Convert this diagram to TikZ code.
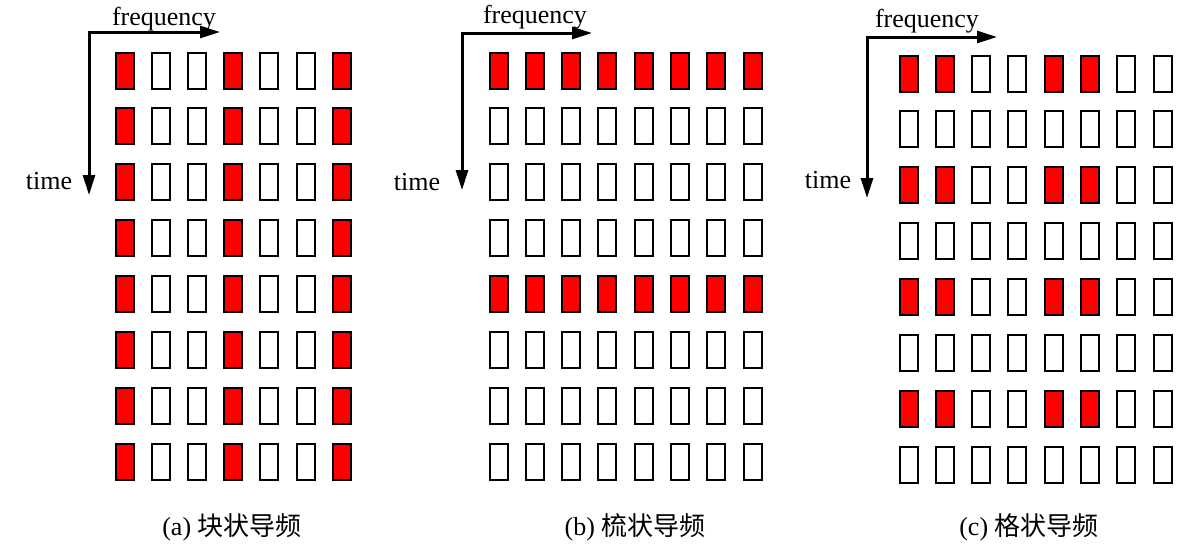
\documentclass[tikz,border=0pt]{standalone}
\usepackage{fontspec}
\setmainfont{Liberation Serif}
\newfontfamily\cjk{Noto Sans CJK SC}
\usetikzlibrary{arrows.meta}
\tikzset{
    cell/.style = {rectangle, line width=1pt, draw=black, minimum width=9pt, minimum height=18pt, inner sep=0pt, fill=#1},
    axisarrow/.style = {line width=1.5pt, line join=miter, {Triangle[length=10pt,width=6pt]}-{Triangle[length=10pt,width=6pt]}},
    lbl/.style = {font=\fontsize{13}{15}\selectfont, anchor=base, inner sep=0pt},
}

\begin{document}
\begin{tikzpicture}[x=0.5pt,y=-0.5pt]
\useasboundingbox (0,0) rectangle (1195,548);
% axes
\coordinate (oa) at (89,32);  \coordinate (fa) at (220,32); \coordinate (ta) at (89,195);
\coordinate (ob) at (462,33); \coordinate (fb) at (592,33); \coordinate (tb) at (462,190);
\coordinate (oc) at (867,37); \coordinate (fc) at (997,37); \coordinate (tc) at (867,198);
\draw[axisarrow] (fa) -- (oa) -- (ta);
\draw[axisarrow] (fb) -- (ob) -- (tb);
\draw[axisarrow] (fc) -- (oc) -- (tc);
\node[lbl] (freqa) at (164,25) {frequency};
\node[lbl] (freqb) at (535,23) {frequency};
\node[lbl] (freqc) at (927,27) {frequency};
\node[lbl] (timea) at (49,189) {time};
\node[lbl] (timeb) at (417,190) {time};
\node[lbl] (timec) at (828,188) {time};
%
% (a) block
\foreach \r in {0,...,7}{
  \foreach \c in {0,...,6}{
    \pgfmathtruncatemacro{\isred}{mod(\c,3)==0}
    \ifnum\isred=1 \def\clr{red}\else\def\clr{white}\fi
    \node[cell=\clr] (a-\r-\c) at ({124.5+36.2*\c},{70.5+55.9*\r}) {};
  }
}
% (b) comb
\foreach \r in {0,...,7}{
  \foreach \c in {0,...,7}{
    \pgfmathtruncatemacro{\isred}{mod(\r,4)==0}
    \ifnum\isred=1 \def\clr{red}\else\def\clr{white}\fi
    \node[cell=\clr] (b-\r-\c) at ({498.5+36.3*\c},{70.5+55.9*\r}) {};
  }
}
% (c) lattice
\foreach \r in {0,...,7}{
  \foreach \c in {0,...,7}{
    \pgfmathtruncatemacro{\isred}{and(mod(\r,2)==0,mod(\c,4)<2)}
    \ifnum\isred=1 \def\clr{red}\else\def\clr{white}\fi
    \node[cell=\clr] (c-\r-\c) at ({908.5+36.3*\c},{73.5+55.9*\r}) {};
  }
}
%
\node[lbl] (capa) at (232,535) {(a) {\cjk 块状导频}};
\node[lbl] (capb) at (635,535) {(b) {\cjk 梳状导频}};
\node[lbl] (capc) at (1029,535) {(c) {\cjk 格状导频}};
\end{tikzpicture}
\end{document}
